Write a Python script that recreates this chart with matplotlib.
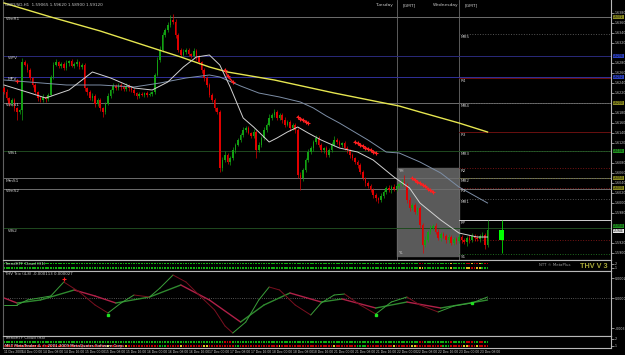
import numpy as np
import matplotlib.pyplot as plt

BASE = 1.5900   # every *_pips value below is counted in pips above this price
PIP = 0.0001

# hourly bars, GBPUSD H1, 11 Dec 17:00 -> 23 Dec 10:00
first_open_pip = 330
close_pips = [
    322, 310, 298, 306, 290, 282, 286, 382, 376, 366, 350, 336, 322, 310, 306, 312, 308, 316, 352, 376,
    382, 374, 378, 370, 380, 384, 374, 378, 382, 372, 376, 330, 322, 310, 314, 298, 306, 290, 282, 298,
    314, 326, 334, 330, 336, 332, 328, 334, 330, 326, 320, 314, 318, 316, 320, 316, 318, 322, 356, 386,
    406, 436, 446, 456, 466, 462, 436, 406, 396, 402, 406, 398, 394, 404, 392, 382, 366, 350, 336, 316,
    306, 290, 282, 170, 186, 196, 182, 190, 206, 216, 226, 236, 246, 250, 240, 234, 242, 206, 216, 230,
    246, 256, 270, 276, 282, 270, 276, 266, 256, 262, 250, 256, 246, 156, 150, 166, 186, 202, 210, 222,
    230, 216, 206, 210, 196, 206, 216, 226, 222, 216, 220, 210, 206, 196, 190, 182, 176, 162, 150, 140,
    134, 126, 116, 110, 106, 114, 122, 130, 126, 132, 128, 134, 138, 142, 136, 106, 90, 96, 82, 90,
    56, 16, 26, 42, 50, 54, 42, 30, 38, 34, 26, 32, 20, 28, 24, 32, 26, 22, 30, 26,
    34, 30, 28, 34, 36, 16, 46]
wick_up = [
    4, 6, 3, 5, 4, 3, 2, 8, 5, 3, 4, 2, 5, 3, 4, 6, 3, 4, 5, 6,
    6, 3, 5, 4, 6, 3, 5, 4, 6, 3, 4, 5, 3, 4, 6, 3, 5, 4, 3, 4,
    5, 3, 6, 4, 5, 3, 4, 6, 3, 5, 4, 3, 5, 4, 3, 5, 4, 3, 5, 6,
    8, 6, 5, 7, 10, 12, 6, 4, 5, 6, 4, 5, 3, 6, 4, 5, 3, 4, 5, 3,
    4, 5, 3, 4, 6, 8, 4, 5, 6, 4, 5, 3, 6, 4, 5, 3, 6, 4, 6, 5,
    6, 4, 8, 5, 6, 4, 5, 3, 6, 4, 5, 3, 4, 4, 6, 5, 4, 6, 5, 4,
    6, 4, 5, 3, 5, 4, 6, 8, 4, 5, 3, 4, 5, 3, 4, 3, 5, 3, 4, 3,
    4, 3, 5, 4, 3, 6, 5, 4, 6, 3, 5, 4, 3, 6, 14, 4, 6, 4, 5, 3,
    4, 3, 8, 5, 6, 4, 5, 6, 4, 5, 3, 5, 4, 5, 4, 6, 4, 5, 4, 6,
    5, 4, 6, 4, 6, 4, 20]
wick_dn = [
    4, 3, 5, 4, 6, 16, 4, 20, 3, 4, 3, 5, 4, 6, 4, 3, 5, 4, 3, 4,
    3, 4, 5, 3, 4, 6, 3, 5, 4, 3, 4, 5, 6, 4, 5, 6, 4, 5, 10, 4,
    3, 4, 5, 3, 4, 5, 3, 4, 5, 3, 4, 6, 4, 3, 5, 4, 3, 5, 4, 3,
    4, 3, 4, 3, 4, 5, 6, 4, 5, 3, 4, 5, 4, 3, 5, 4, 5, 6, 4, 5,
    4, 6, 5, 8, 6, 4, 5, 6, 4, 5, 3, 4, 5, 4, 3, 5, 4, 16, 4, 5,
    3, 4, 3, 4, 5, 4, 3, 5, 4, 3, 5, 4, 5, 6, 24, 5, 4, 3, 4, 5,
    4, 5, 4, 6, 4, 5, 4, 3, 5, 4, 5, 4, 5, 6, 4, 5, 6, 5, 4, 6,
    5, 4, 6, 5, 6, 3, 4, 5, 4, 5, 3, 4, 5, 4, 3, 5, 6, 4, 5, 6,
    6, 16, 5, 4, 5, 4, 5, 4, 6, 4, 5, 6, 4, 5, 6, 4, 5, 4, 8, 5,
    4, 5, 4, 6, 4, 8, 4]

# daily candle drawn right of the last bar
day_idx = 191.5
day_ohlc = [26, 66, 0, 46]

# moving averages (bar index, pips)
yellow_idx = [0, 18, 37, 56, 68, 79, 86, 104, 127, 152, 160, 175, 186]
yellow_pips = [500, 472, 444, 412, 392, 372, 362, 346, 320, 294, 282, 260, 242]
fast_idx = [0, 10, 16, 25, 34, 41, 50, 57, 63, 69, 74, 79, 83, 87, 92, 96, 102, 105, 109, 113,
            117, 122, 129, 136, 142, 150, 156, 160, 168, 175, 182, 186]
fast_pips = [336, 320, 310, 326, 362, 350, 330, 326, 342, 372, 392, 396, 376, 332, 270, 252, 222, 230, 242, 252,
             240, 226, 210, 202, 186, 152, 130, 100, 66, 40, 32, 32]
slow_idx = [0, 24, 37, 50, 60, 70, 79, 83, 91, 98, 106, 114, 119, 124, 129, 140, 147, 152, 160, 168, 175, 186]
slow_pips = [346, 336, 336, 332, 340, 350, 356, 352, 334, 320, 312, 302, 290, 274, 260, 226, 202, 200, 182, 160, 132, 100]

# red signal crosses
signals = [
    ([85, 86, 88], [366, 354, 342]),
    ([113, 114, 115, 116, 117], [272, 269, 266, 263, 260]),
    ([135, 136, 137, 138, 139, 140, 141, 142, 143], [222, 219, 216, 214, 211, 208, 206, 203, 200]),
    ([157, 158, 159, 160, 161, 162, 163, 164, 165], [150, 146, 143, 139, 136, 133, 129, 126, 122]),
]

# weekly / monthly pivots across the whole chart
week_names = ["WmR1", "WPV", "MPV", "WmS1", "WS1", "MmS1", "WmS2", "WS2"]
week_pips = [472, 394, 352, 300, 204, 150, 128, 50]
week_colors = ["#6e6e6e", "#2a2a7a", "#30309a", "#6e6e6e", "#1f4a1f", "#6e6e6e", "#6e6e6e", "#1f4a1f"]

# daily pivots from Wednesday on
day_names = ["MR5", "R4", "MR4", "R3", "MR3", "R2", "MR2", "R1", "MR1", "PP", "", "S1"]
day_pips = [438, 350, 300, 242, 204, 170, 150, 130, 108, 66, 26, -2]
day_colors = ["#555555", "#6a1010", "#555555", "#6a1010", "#2a5a2a", "#7a1515", "#6a6a20",
              "#7a1515", "#555555", "#d0d0d0", "#7a1515", "#1f6a1f"]
day_styles = [":", "-", ":", "-", ":", ":", ":", ":", ":", "-", ":", ":"]

# yesterday's range box
box_idx = [151, 175]
box_pips = [170, -6]

# oscillator (values in 1e-5)
osc_fast_idx = [0, 5, 9, 18, 23, 29, 35, 40, 45, 50, 56, 60, 65, 70, 75, 81, 85, 88, 93, 98, 102, 106,
                112, 118, 122, 127, 131, 137, 143, 149, 155, 160, 167, 173, 180, 186]
osc_fast = [-7, -7, -2, 2, 16, 6, -7, -15, -5, 3, 1, 10, 23, 16, 3, -12, -28, -35, -24, -2, 11, 8,
            -7, -17, -5, 3, 4, -7, -16, -4, 1, -7, -14, -8, -5, 1]
osc_slow_idx = [0, 5, 14, 27, 35, 43, 56, 68, 79, 91, 100, 110, 122, 130, 143, 155, 168, 186]
osc_slow = [0, -5, -2, 8, 2, -5, 1, 13, -2, -24, -7, 5, -4, -1, -10, -4, -10, -2]
osc_red_marks = ([23], [19])
osc_green_marks = ([40, 143, 180], [-17, -17, -5])

# cloud strips, run-length coded: g green, r red, y yellow
strip1_top = [("g", 160), ("r", 2), ("g", 10), ("y", 1), ("g", 5), ("r", 2), ("y", 1), ("r", 2), ("y", 1), ("g", 1), ("r", 2)]
strip1_bot = [("g", 160), ("y", 2), ("g", 10), ("y", 1), ("g", 5), ("y", 2), ("r", 2), ("y", 2), ("g", 3)]
strip2_top = [("g", 85), ("r", 3), ("g", 72), ("r", 2), ("g", 10), ("r", 1), ("g", 5), ("r", 3), ("g", 2), ("r", 2), ("g", 2)]
strip2_bot = [("r", 40), ("y", 1), ("r", 6), ("y", 1), ("r", 12), ("g", 3), ("r", 5), ("y", 1), ("r", 8), ("y", 2),
              ("r", 10), ("g", 2), ("r", 15), ("y", 1), ("r", 20), ("y", 1), ("r", 8), ("g", 4), ("r", 10), ("y", 1),
              ("r", 6), ("y", 2), ("r", 10), ("g", 3), ("r", 5), ("y", 2), ("r", 3), ("y", 1), ("r", 4)]

date_idx = [0, 7, 15, 23, 31, 39, 47, 55, 63, 71, 79, 87, 95, 103, 111, 119, 127, 135, 143, 151, 159, 167, 175, 183]
date_labels = ["11 Dec 2009", "14 Dec 00:00", "14 Dec 08:00", "14 Dec 16:00", "15 Dec 00:00", "15 Dec 08:00",
               "15 Dec 16:00", "16 Dec 00:00", "16 Dec 08:00", "16 Dec 16:00", "17 Dec 00:00", "17 Dec 08:00",
               "17 Dec 16:00", "18 Dec 00:00", "18 Dec 08:00", "18 Dec 16:00", "21 Dec 00:00", "21 Dec 08:00",
               "21 Dec 16:00", "22 Dec 00:00", "22 Dec 08:00", "22 Dec 16:00", "23 Dec 00:00", "23 Dec 08:00"]


def px(p):
    return BASE + np.asarray(p, dtype=float) * PIP


W, H = 625, 355
XLIM = (-0.4, 233.5)
TXT = "#c8c8c8"
fig = plt.figure(figsize=(W / 100, H / 100), dpi=100, facecolor="black")


def make_ax(top, bottom):
    a = fig.add_axes([3 / W, 1 - bottom / H, 608 / W, (bottom - top) / H], facecolor="black")
    a.set_xlim(*XLIM)
    a.set_xticks([])
    for s in a.spines.values():
        s.set_color("#b8b8b8")
        s.set_linewidth(0.8)
    a.spines["left"].set_color("#606060")
    a.yaxis.tick_right()
    a.tick_params(axis="y", colors=TXT, labelsize=2.3, length=2, width=0.5, pad=0.8)
    return a


## MAIN PRICE PANEL ##
ax = make_ax(0, 260)
ax.spines["top"].set_visible(False)
ax.set_ylim(px(-14), px(506))

# boxes on the price scale (pips, colour)
box_tags = [(472, "#8a8a20"), (394, "#2b3fbf"), (352, "#2b3fbf"), (300, "#8a8a20"), (204, "#1f8f1f"),
            (150, "#8a8a20"), (130, "#8a8a20"), (54, "#1f8f1f"), (day_ohlc[3] - 2, "#e8e8e8")]
ticks = [t for t in range(0, 500, 20) if min(abs(t - b[0]) for b in box_tags) > 7]
ax.set_yticks(px(ticks))
ax.set_yticklabels(["%.4f" % v for v in px(ticks)])

closes = px(close_pips)
opens = np.concatenate([[px(first_open_pip)], closes[:-1]])
highs = np.maximum(opens, closes) + np.array(wick_up) * PIP
lows = np.minimum(opens, closes) - np.array(wick_dn) * PIP
idx = np.arange(len(closes))

# previous day box and day separators
ax.fill_between(box_idx, px(box_pips[1]), px(box_pips[0]), color="#5a5a5a", zorder=1)
ax.text(box_idx[0] + 0.6, px(box_pips[0] - 2), "YH", color=TXT, fontsize=3, va="top", zorder=6)
ax.text(box_idx[0] + 0.6, px(box_pips[1] + 1), "YL", color=TXT, fontsize=3, va="bottom", zorder=6)
for sep in box_idx:
    ax.axvline(sep, color="#6a6a6a", lw=0.6, zorder=1)

for name, p, c in zip(week_names, week_pips, week_colors):
    ax.axhline(px(p), color=c, lw=0.7, zorder=2)
    ax.text(0.6 if len(name) > 3 else 1.5, px(p - 1), name, color=TXT, fontsize=3.2, va="top", zorder=6)
for name, p, c, ls in zip(day_names, day_pips, day_colors, day_styles):
    ax.plot([box_idx[1], XLIM[1]], [px(p), px(p)], color=c, lw=0.7, ls=ls, zorder=2)
    if name:
        ax.text(box_idx[1] + 0.8, px(p - 1.5), name, color=TXT, fontsize=3, va="top", zorder=6)

# moving averages
ax.plot(yellow_idx, px(yellow_pips), color="#e6e650", lw=1.0, zorder=4)
ax.plot(slow_idx, px(slow_pips), color="#7d8ea6", lw=0.7, zorder=4)
ax.plot(fast_idx, px(fast_pips), color="#d2d2d2", lw=0.7, zorder=4)

# candles
up = closes >= opens
cols = np.where(up, "#12a012", "#e00000")
ax.vlines(idx, lows, highs, colors=cols, lw=0.5, zorder=3)
body = np.maximum(np.abs(closes - opens), 0.4 * PIP)
ax.bar(idx, body, bottom=np.minimum(opens, closes), width=0.62, color=cols, zorder=3)

d_o, d_h, d_l, d_c = px(day_ohlc)
ax.vlines(day_idx, d_l, d_h, colors="#00e000", lw=0.6, zorder=3)
ax.bar(day_idx, d_c - d_o, bottom=d_o, width=1.9, color="#00ff00", zorder=3)

for si, sp in signals:
    ax.plot(si, px(sp), color="#ff2020", lw=1.0, marker="+", ms=2.5, mew=0.8, zorder=5)
ax.plot([5], [px(344)], color="#ff2020", marker="+", ms=2.5, mew=0.8, ls="none", zorder=5)

for p, c in box_tags:
    ax.text(1.003, px(p), "%.4f" % px(p), transform=ax.get_yaxis_transform(), fontsize=2.2,
            color="black", va="center", ha="left",
            bbox=dict(boxstyle="square,pad=0.1", fc=c, ec="none"))

fig.text(5 / W, 1 - 5 / H, "GBPUSD,H1  1.59065 1.59620 1.58900 1.59120", color=TXT, fontsize=3, va="center")
fig.text(393 / W, 1 - 5 / H, "Tuesday", color=TXT, fontsize=3.2, va="center", ha="right")
fig.text(403 / W, 1 - 5 / H, "[GMT]", color=TXT, fontsize=3.2, va="center")
fig.text(458 / W, 1 - 5 / H, "Wednesday", color=TXT, fontsize=3.2, va="center", ha="right")
fig.text(465 / W, 1 - 5 / H, "[GMT]", color=TXT, fontsize=3.2, va="center")

colmap = {"g": "#10b010", "r": "#c00000", "y": "#e0c020"}


def expand(runs):
    out = []
    for code, n in runs:
        out.extend([colmap[code]] * n)
    return out


## CLOUD STRIP 1 ##
s1 = make_ax(260, 271)
s1.set_ylim(0, 1)
s1.scatter(idx, [0.68] * len(idx), c=expand(strip1_top), marker="s", s=1.6, linewidths=0)
s1.scatter(idx, [0.28] * len(idx), c=expand(strip1_bot), marker="s", s=1.6, linewidths=0)
s1.set_yticks([0.68, 0.28])
s1.set_yticklabels(["2", "1"])
s1.text(0.5, 0.68, "TrendHTF Cloud (H1)", color=TXT, fontsize=2.8, va="center")
s1.text(218, 0.5, "NTT \u00a9 MetaPlus", color="#9a9a9a", fontsize=2.8, va="center", ha="right")
s1.text(232, 0.45, "THV V 3", color="#a8a838", fontsize=5.2, fontweight="bold",
        family="Liberation Sans", va="center", ha="right")

## OSCILLATOR ##
osc = make_ax(271, 336)
osc.set_ylim(-38, 27)
osc.axhline(0, color="#707070", lw=0.6, ls=":")
osc.set_yticks([20, 0, -30])
osc.set_yticklabels(["0.0002", "0.0000", "-.0003"])


def slope_line(xs, ys, up_c, dn_c, lw):
    for i in range(len(xs) - 1):
        c = up_c if ys[i + 1] >= ys[i] else dn_c
        osc.plot(xs[i:i + 2], ys[i:i + 2], color=c, lw=lw, solid_capstyle="round")


slope_line(osc_slow_idx, osc_slow, "#2f8a2f", "#b02048", 1.0)
slope_line(osc_fast_idx, osc_fast, "#3aa03a", "#7a1020", 0.7)
osc.plot(*osc_red_marks, color="#ff2020", marker="+", ms=3, mew=0.8, ls="none")
osc.plot(*osc_green_marks, color="#20e020", marker="s", ms=1.6, ls="none")
osc.text(0.5, 24, "THV Trix (4,8) -0.000113 0.000027", color=TXT, fontsize=2.8, va="center")

## CLOUD STRIP 2 ##
s2 = make_ax(336, 348)
s2.set_ylim(0, 1)
s2.scatter(idx, [0.5] * len(idx), c=expand(strip2_top), marker="s", s=1.6, linewidths=0)
s2.scatter(idx, [0.17] * len(idx), c=expand(strip2_bot), marker="s", s=1.6, linewidths=0)
s2.set_yticks([0.75, 0.17])
s2.set_yticklabels(["2", "1"])
s2.text(0.5, 0.8, "TrendHTF Cloud (H4)", color=TXT, fontsize=2.8, va="center")
s2.text(0.5, 0.17, "M5T MetaTrader 4, \u00a9 2001-2009 MetaQuotes Software Corp.", color="white",
        fontsize=2.8, va="center")

## DATE AXIS ##
for di, lab in zip(date_idx, date_labels):
    xp = 3 + (di - XLIM[0]) / (XLIM[1] - XLIM[0]) * 608
    fig.text(xp / W, 1 - 352 / H, lab, color=TXT, fontsize=2.4, family="Liberation Sans",
             va="center", ha="left")

fig.savefig("out.png", dpi=100, facecolor="black")
